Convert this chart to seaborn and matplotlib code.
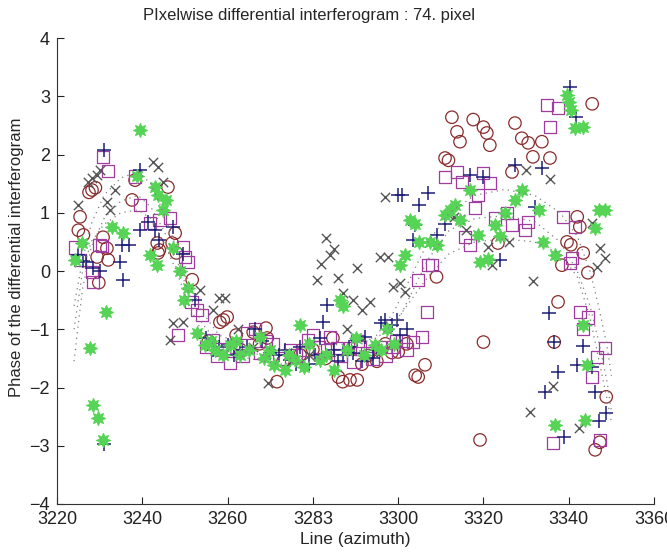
import matplotlib
matplotlib.use("Agg")
import matplotlib.pyplot as plt
import seaborn as sns

# ---------------- data ----------------
circ_x = [3225.4, 3225.0, 3226.2, 3227.5, 3228.2, 3229.0, 3229.4, 3229.8, 3230.8, 3231.7, 3232.0,
          3237.6, 3238.3, 3243.5, 3243.7, 3244.0, 3246.0, 3247.0, 3247.7, 3248.0, 3251.7, 3258.2,
          3259.0, 3259.9, 3262.0, 3266.0, 3269.0, 3269.3, 3271.6, 3277.0, 3284.7, 3286.0, 3287.0,
          3288.7, 3290.4, 3293.0, 3297.0, 3300.0, 3304.0, 3304.7, 3306.3, 3309.0, 3311.0, 3311.8,
          3312.6, 3313.8, 3314.5, 3317.6, 3319.2, 3320.0, 3320.0, 3320.8, 3321.5, 3323.4, 3326.7,
          3327.4, 3329.0, 3330.5, 3331.6, 3333.7, 3335.6, 3336.6, 3337.5, 3338.4, 3339.6, 3340.5,
          3342.0, 3342.6, 3343.4, 3344.5, 3345.5, 3346.2, 3347.3, 3348.8,
          3255.5, 3263.0, 3267.5, 3273.0, 3280.0, 3283.0, 3291.5, 3295.0, 3298.5, 3302.0]
circ_y = [0.93, 0.70, 0.62, 1.35, 1.39, 1.43, 0.24, -0.20, 0.58, 0.39, 0.19,
          1.22, 1.56, 0.48, 0.31, 0.36, 1.44, 0.48, 0.65, 0.31, -0.15, -0.88,
          -0.84, -0.79, -1.10, -1.05, -0.98, -1.15, -1.90, -1.44, -1.15, -1.82, -1.90,
          -1.87, -1.87, -1.45, -1.25, -1.39, -1.79, -1.82, -1.61, -0.10, 1.94, 1.90,
          2.64, 2.39, 2.22, 2.60, -2.90, 2.47, -1.22, 2.37, 2.16, 0.48, 1.70,
          2.54, 2.28, 2.20, 1.96, 2.22, 1.94, -1.22, -0.53, 0.10, 0.50, 0.45,
          0.93, 0.76, 0.31, -0.03, 2.87, -3.07, -2.94, -2.16,
          -1.20, -1.35, -1.25, -1.55, -1.35, -1.50, -1.60, -1.55, -1.40, -1.25]

plus_x = [3225.0, 3226.0, 3226.8, 3228.5, 3230.0, 3231.0, 3231.0, 3234.8, 3235.5, 3235.2, 3236.8,
          3239.5, 3239.5, 3241.4, 3243.0, 3244.0, 3247.2, 3249.5, 3252.4, 3255.0, 3258.0, 3260.0,
          3263.0, 3266.4, 3268.0, 3272.0, 3273.5, 3274.6, 3277.0, 3279.0, 3281.7, 3282.4, 3283.3,
          3285.0, 3287.0, 3289.5, 3290.4, 3292.2, 3294.0, 3296.0, 3297.0, 3298.6, 3299.7, 3300.0,
          3301.0, 3303.5, 3304.0, 3305.0, 3307.0, 3309.0, 3311.0, 3316.9, 3320.0, 3324.0, 3327.4,
          3332.0, 3333.7, 3335.4, 3336.6, 3337.5, 3334.4, 3339.0, 3340.3, 3341.7, 3342.0, 3343.4,
          3345.5, 3346.2, 3347.1, 3348.8,
          3256.5, 3261.5, 3264.5, 3270.0, 3276.0, 3280.5, 3286.0, 3288.5, 3291.5, 3295.0, 3300.5,
          3302.0]
plus_y = [0.27, 0.18, 0.15, 0.05, 0.00, 2.08, -2.97, 0.15, -0.15, 0.45, 0.45,
          0.70, 1.73, 0.84, 0.70, 0.53, 0.75, 0.30, -0.50, -1.15, -1.30, -1.27,
          -1.35, -1.00, -1.20, -1.45, -1.36, -1.53, -1.30, -1.60, -1.15, -0.88, -0.58,
          -1.35, -1.45, -1.40, -1.18, -1.13, -1.50, -0.90, -0.84, -0.93, -0.84, 1.30,
          1.30, 0.53, 0.79, 1.13, 1.34, 0.62, 0.80, 1.65, 1.61, 0.19, 1.82,
          1.10, 1.77, -0.72, -1.22, -1.73, -2.08, -2.85, 3.16, 2.64, -1.61, -1.29,
          -1.65, -2.08, -2.58, -2.44,
          -1.35, -1.45, -1.30, -1.40, -1.60, -1.45, -1.55, -1.30, -1.55, -1.35, -1.10,
          -1.00]

cross_x = [3224.9, 3227.3, 3228.2, 3229.4, 3230.0, 3231.7, 3232.4, 3233.6, 3242.5, 3243.7, 3244.9,
           3246.5, 3247.2, 3249.5, 3253.5, 3256.5, 3258.0, 3259.4, 3262.4, 3266.0, 3269.5, 3275.0,
           3279.0, 3281.0, 3282.0, 3283.0, 3284.0, 3285.0, 3286.0, 3287.0, 3288.0, 3289.4, 3290.4,
           3291.5, 3293.4, 3295.7, 3297.0, 3297.6, 3298.8, 3300.4, 3301.6, 3312.0, 3313.0, 3314.5,
           3316.0, 3321.0, 3322.0, 3326.0, 3330.0, 3331.0, 3331.6, 3335.6, 3336.3, 3342.4, 3345.5,
           3346.6, 3347.3, 3348.5]
cross_y = [1.13, 1.53, 1.60, 1.65, 1.73, 1.18, 1.05, 1.39, 1.87, 1.79, 1.53,
           -1.18, -0.90, -0.88, -0.33, -0.67, -0.46, -0.46, -1.00, -1.30, -1.92, -1.55,
           -1.45, -0.15, 0.12, 0.57, 0.27, 0.38, -0.12, -0.38, -1.00, -0.50, 0.05,
           -0.67, -0.53, 0.24, 1.27, 0.24, -0.27, -0.20, -0.36, 0.96, 0.93, 0.90,
           0.70, 0.41, 0.10, 0.50, 1.73, -2.42, -0.17, 1.58, -1.97, -2.70, 0.82,
           0.07, 0.40, 0.22]

sq_x = [3224.2, 3225.4, 3228.2, 3228.4, 3230.0, 3230.6, 3230.8, 3232.0, 3238.3, 3239.5, 3241.8,
        3244.0, 3246.5, 3248.4, 3249.5, 3250.0, 3250.7, 3251.5, 3252.8, 3254.0, 3255.0, 3256.6,
        3260.6, 3258.5, 3264.6, 3266.4, 3267.6, 3270.5, 3274.6, 3277.7, 3278.9, 3280.0, 3283.3,
        3284.0, 3285.7, 3288.7, 3290.5, 3292.7, 3295.7, 3298.8, 3301.0, 3303.5, 3304.7, 3305.6,
        3306.8, 3307.0, 3308.0, 3311.0, 3313.8, 3315.0, 3315.7, 3316.9, 3318.0, 3318.7, 3319.9,
        3321.5, 3322.7, 3325.5, 3326.7, 3329.8, 3330.5, 3334.9, 3335.6, 3337.5, 3338.7, 3340.3,
        3340.8, 3341.5, 3342.6, 3343.4, 3344.5, 3345.5, 3346.6, 3348.5, 3336.3, 3347.3,
        3257.5, 3262.0, 3263.5, 3269.0, 3272.0, 3276.0, 3281.5, 3286.5, 3289.5, 3291.0, 3294.0,
        3297.0, 3299.5, 3302.0]
sq_y = [0.40, 0.19, -0.02, -0.19, 0.45, 0.43, 1.96, 1.72, 1.62, 1.13, 0.82,
        0.88, 0.91, -1.10, 0.41, 0.24, 0.15, -0.53, -0.67, -0.76, -1.30, -1.18,
        -1.58, -1.35, -1.06, -1.00, -1.41, -1.25, -1.36, -1.36, -1.18, -1.10, -1.36,
        -1.13, -1.32, -1.32, -1.20, -1.41, -1.30, -1.30, -1.20, -1.22, -0.15, -1.13,
        -0.70, 0.10, 0.10, 1.61, 1.70, 1.53, 0.58, 0.45, 1.08, 1.30, 1.68,
        1.51, 0.91, 1.00, 0.79, 0.70, 0.84, 2.85, 2.47, 2.80, 0.93, 0.14,
        0.22, 0.76, -0.70, -1.00, -0.80, -1.82, -1.48, -1.32, -2.95, -2.90,
        -1.45, -1.30, -1.45, -1.20, -1.50, -1.45, -1.30, -1.45, -1.55, -1.30, -1.50,
        -1.45, -1.20, -1.35]

star_x = [3224.2, 3225.9, 3227.7, 3228.4, 3229.6, 3230.8, 3231.6, 3232.9, 3235.5, 3238.8, 3239.5,
          3241.8, 3243.0, 3243.5, 3243.7, 3244.9, 3245.5, 3247.2, 3248.8, 3249.8, 3250.7, 3252.8,
          3254.7, 3257.0, 3260.6, 3263.0, 3267.6, 3270.0, 3271.0, 3273.5, 3275.8, 3277.0, 3279.0,
          3281.7, 3285.0, 3286.4, 3287.0, 3290.0, 3294.6, 3297.5, 3300.4, 3301.5, 3302.8, 3304.0,
          3305.0, 3307.5, 3309.0, 3311.0, 3312.2, 3313.4, 3314.5, 3316.9, 3318.7, 3319.2, 3321.0,
          3322.7, 3324.0, 3325.0, 3327.4, 3329.0, 3333.0, 3334.0, 3336.8, 3336.8, 3339.6, 3340.0,
          3340.5, 3341.5, 3343.4, 3343.4, 3343.8, 3344.3, 3346.2, 3347.0, 3348.5,
          3256.0, 3259.0, 3262.0, 3265.0, 3268.5, 3274.5, 3278.0, 3283.0, 3288.0, 3292.0, 3296.0,
          3299.0]
star_y = [0.19, 0.48, -1.32, -2.30, -2.52, -2.90, -0.70, 0.76, 0.65, 1.63, 2.42,
          0.27, 1.44, 0.10, 1.30, 1.05, 1.22, 0.39, 0.00, -0.50, -0.30, -1.06,
          -1.27, -1.36, -1.27, -1.44, -1.13, -1.35, -1.61, -1.70, -1.53, -0.93, -1.25,
          -1.53, -1.70, -0.50, -0.60, -1.15, -1.27, -1.00, 0.10, 0.27, 0.88, 0.80,
          0.50, 0.50, 0.45, 0.96, 1.05, 1.13, 0.88, 1.39, 0.62, 0.15, 0.20,
          0.79, 0.60, 1.00, 1.22, 1.39, 1.05, 0.50, 0.27, -2.64, 3.02, 2.90,
          2.76, 2.45, 2.47, -0.93, -2.56, -1.61, 0.74, 1.05, 1.05,
          -1.20, -1.45, -1.20, -1.35, -1.50, -1.45, -1.65, -1.45, -1.35, -1.45, -1.35,
          -1.25]

# dotted model curves (nodes)
fit_x = [3224, 3225, 3226, 3228, 3231, 3235, 3239, 3242, 3245, 3248, 3251, 3254, 3258, 3265, 3272,
         3280, 3288, 3295, 3299, 3303, 3307, 3312, 3318, 3325, 3332, 3338, 3342, 3345, 3347, 3349, 3350]
fit1_y = [-1.55, -0.9, -0.3, 0.4, 0.9, 1.2, 1.3, 1.1, 0.7, 0.2, -0.4, -0.9, -1.25, -1.4, -1.5,
          -1.5, -1.45, -1.3, -1.0, -0.4, 0.2, 0.7, 0.9, 0.95, 0.85, 0.5, 0.0, -0.6, -1.2, -1.9, -2.4]
fit2_y = [-1.0, -0.5, 0.0, 0.5, 0.8, 1.0, 1.05, 0.9, 0.5, 0.0, -0.6, -1.05, -1.35, -1.5, -1.6,
          -1.55, -1.4, -1.1, -0.7, -0.1, 0.5, 1.0, 1.3, 1.4, 1.3, 1.0, 0.6, 0.0, -0.6, -1.3, -1.8]
fit3_y = [-0.6, -0.2, 0.2, 0.8, 1.3, 1.6, 1.7, 1.5, 1.0, 0.4, -0.2, -0.7, -1.1, -1.3, -1.35,
          -1.3, -1.25, -1.15, -0.9, -0.5, -0.1, 0.3, 0.5, 0.55, 0.5, 0.3, -0.1, -0.8, -1.5, -2.2, -2.6]

xtick_pos = [3220, 3240, 3260, 3280, 3300, 3320, 3340, 3360]
xtick_lab = ["3220", "3240", "3260", "3283", "3300", "3320", "3340", "3360"]
ytick_pos = [-4, -3, -2, -1, 0, 1, 2, 3, 4]

title = "PIxelwise differential interferogram : 74. pixel"
xlabel = "Line (azimuth)"
ylabel = "Phase of the differential interferogram"

# ---------------- style ----------------
sns.set_style("ticks")
plt.rcParams["font.family"] = ["Liberation Sans", "DejaVu Sans"]
plt.rcParams["xtick.direction"] = "in"
plt.rcParams["ytick.direction"] = "in"

fig = plt.figure(figsize=(6.67, 5.55), dpi=100)
ax = fig.add_axes([0.0855, 0.0919, 0.895, 0.8396])

dot_col = "#808080"
for fy in (fit1_y, fit2_y, fit3_y):
    sns.lineplot(x=fit_x, y=fy, ax=ax, color=dot_col, linewidth=0.9,
                 linestyle=(0, (1, 3.5)), sort=False, estimator=None, legend=False)

sns.scatterplot(x=circ_x, y=circ_y, ax=ax, marker="o", s=80, facecolor="none",
                edgecolor="#8a2b2b", linewidth=0.9, legend=False)
sns.scatterplot(x=sq_x, y=sq_y, ax=ax, marker="s", s=80, facecolor="none",
                edgecolor="#a03ca0", linewidth=0.9, legend=False)
sns.scatterplot(x=plus_x, y=plus_y, ax=ax, marker="+", s=110, color="#1e1e78",
                linewidth=1.1, legend=False)
sns.scatterplot(x=cross_x, y=cross_y, ax=ax, marker="x", s=45, color="#555555",
                linewidth=1.0, legend=False)
sns.scatterplot(x=star_x, y=star_y, ax=ax, marker=(8, 1, 0), s=95, color="#55d455",
                edgecolor="#55d455", linewidth=1.0, legend=False)

ax.set_xlim(3220, 3360)
ax.set_ylim(-4, 4)
ax.set_xticks(xtick_pos)
ax.set_xticklabels(xtick_lab)
ax.set_yticks(ytick_pos)
ax.tick_params(labelsize=13, length=5, width=0.8, pad=5, colors="#222222")
for s in ("top", "right"):
    ax.spines[s].set_visible(False)
for s in ("left", "bottom"):
    ax.spines[s].set_linewidth(0.8)
    ax.spines[s].set_color("#333333")

ax.set_xlabel(xlabel, fontsize=12.5, labelpad=3)
ax.set_ylabel(ylabel, fontsize=12)
ax.yaxis.set_label_coords(-0.056, 0.53)
fig.text(0.463, 0.972, title, ha="center", va="center", fontsize=12)

fig.savefig("out.png", dpi=100)
